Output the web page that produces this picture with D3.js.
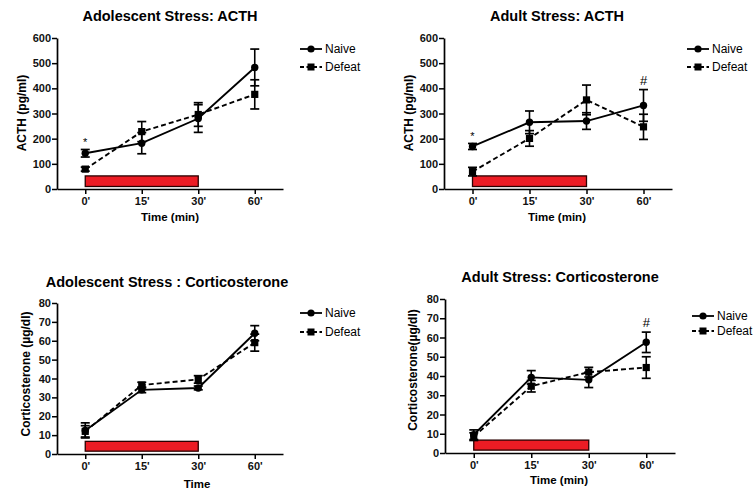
<!DOCTYPE html>
<html><head><meta charset="utf-8">
<script src="https://cdn.jsdelivr.net/npm/d3@7"></script>
<style>
body{margin:0;background:#fff;}
svg{display:block;font-family:"Liberation Sans",Arial,sans-serif;}
</style></head>
<body><svg id="c" width="754" height="491"></svg>
<script>
// ---- data ----
const timepoints = ["0'", "15'", "30'", "60'"];
const seriesNames = ["Naive", "Defeat"];
const acthTicks = [0, 100, 200, 300, 400, 500, 600];
const cortTicks = [0, 10, 20, 30, 40, 50, 60, 70, 80];

const adoActhNaive = [142, 182, 280, 483];
const adoActhNaiveErr = [15, 42, 55, 73];
const adoActhDefeat = [79, 228, 296, 376];
const adoActhDefeatErr = [8, 40, 47, 58];

const adActhNaive = [169, 265, 270, 332];
const adActhNaiveErr = [12, 45, 33, 63];
const adActhDefeat = [69, 201, 354, 247];
const adActhDefeatErr = [17, 31, 59, 50];

const adoCortNaive = [12.5, 34, 35, 64];
const adoCortNaiveErr = [4, 1.5, 1, 4];
const adoCortDefeat = [12, 36.5, 39.5, 59];
const adoCortDefeatErr = [3, 1.5, 2, 4.5];

const adCortNaive = [9.5, 39.3, 38, 57.5];
const adCortNaiveErr = [2.5, 3.5, 4, 5.3];
const adCortDefeat = [8.5, 34.7, 42, 44.4];
const adCortDefeatErr = [2, 3, 2.5, 5.6];

// stress period bar (from 0' to 30'), in data units [low, high]
const acthStressBar = [10, 52];
const cortStressBar = [1.5, 6.7];

// significance markers: [timepoint, symbol, value position]
const adoActhSig = [["0'", "*", 188]];
const adActhSig = [["0'", "*", 212], ["60'", "#", 432]];
const adoCortSig = [];
const adCortSig = [["60'", "#", 68]];

// ---- layout ----
const panels = [
  {title:"Adolescent Stress: ACTH", tx:170, ty:16, ylabel:"ACTH (pg/ml)", ylx:22, yly:113,
   xlabel:"Time (min)", xlx:170, xly:217, x0:57, x1:283, yb:189, yt:38, ymax:600, ticks:acthTicks,
   naive:adoActhNaive, naiveErr:adoActhNaiveErr, defeat:adoActhDefeat, defeatErr:adoActhDefeatErr,
   bar:acthStressBar, sig:adoActhSig, lgx:300, lgy:[49,67]},
  {title:"Adult Stress: ACTH", tx:557, ty:16, ylabel:"ACTH (pg/ml)", ylx:409, yly:113,
   xlabel:"Time  (min)", xlx:557, xly:217, x0:444, x1:672, yb:189, yt:38, ymax:600, ticks:acthTicks,
   naive:adActhNaive, naiveErr:adActhNaiveErr, defeat:adActhDefeat, defeatErr:adActhDefeatErr,
   bar:acthStressBar, sig:adActhSig, lgx:687, lgy:[49,67]},
  {title:"Adolescent Stress : Corticosterone", tx:167, ty:282, ylabel:"Corticosterone (\u00b5g/dl)", ylx:26, yly:374,
   xlabel:"Time", xlx:197, xly:484, x0:57, x1:283, yb:454, yt:303, ymax:80, ticks:cortTicks,
   naive:adoCortNaive, naiveErr:adoCortNaiveErr, defeat:adoCortDefeat, defeatErr:adoCortDefeatErr,
   bar:cortStressBar, sig:adoCortSig, lgx:300, lgy:[313,332]},
  {title:"Adult Stress: Corticosterone", tx:560, ty:277, ylabel:"Corticosterone(\u00b5g/dl)", ylx:413, yly:370,
   xlabel:"Time (min)", xlx:559, xly:480, x0:445, x1:675, yb:453, yt:299, ymax:80, ticks:cortTicks,
   naive:adCortNaive, naiveErr:adCortNaiveErr, defeat:adCortDefeat, defeatErr:adCortDefeatErr,
   bar:cortStressBar, sig:adCortSig, lgx:692, lgy:[316,331]}
];

const svg = d3.select("#c");
const RED = "#ec1c24";

panels.forEach(p => {
  const g = svg.append("g");
  const x = d3.scalePoint().domain(timepoints).range([p.x0, p.x1]).padding(0.5);
  const y = d3.scaleLinear().domain([0, p.ymax]).range([p.yb, p.yt]);

  // title
  g.append("text").attr("x", p.tx).attr("y", p.ty).attr("text-anchor","middle")
    .attr("dominant-baseline","central").attr("font-weight","bold").attr("font-size",14.5).text(p.title);

  // stress bar
  g.append("rect").attr("x", x(timepoints[0])).attr("width", x("30'") - x(timepoints[0]))
    .attr("y", y(p.bar[1])).attr("height", y(p.bar[0]) - y(p.bar[1]))
    .attr("fill", RED).attr("stroke", "#2a0000").attr("stroke-width", 1.3);

  // axes
  const ya = g.append("g").attr("transform", `translate(${p.x0},0)`)
    .call(d3.axisLeft(y).tickValues(p.ticks).tickSize(5).tickSizeOuter(0).tickPadding(1));
  const xa = g.append("g").attr("transform", `translate(0,${p.yb})`)
    .call(d3.axisBottom(x).tickSize(5).tickSizeOuter(0).tickPadding(3));
  [ya, xa].forEach(a => {
    a.select(".domain").attr("stroke","#000").attr("stroke-width",1.7);
    a.selectAll(".tick line").attr("stroke","#000").attr("stroke-width",1.5);
    a.selectAll("text").attr("font-family","Liberation Sans, Arial, sans-serif")
      .attr("font-weight","bold").attr("font-size",11).attr("fill","#111");
  });

  // axis labels
  g.append("text").attr("transform", `translate(${p.ylx},${p.yly}) rotate(-90)`)
    .attr("text-anchor","middle").attr("dominant-baseline","central")
    .attr("font-weight","bold").attr("font-size",12).text(p.ylabel);
  g.append("text").attr("x", p.xlx).attr("y", p.xly).attr("text-anchor","middle")
    .attr("dominant-baseline","central").attr("font-weight","bold").attr("font-size",11.5).text(p.xlabel);

  const series = [
    {name:seriesNames[0], vals:p.naive, err:p.naiveErr, dash:null, shape:"circle"},
    {name:seriesNames[1], vals:p.defeat, err:p.defeatErr, dash:"5,3", shape:"square"}
  ];
  const line = d3.line().x((d,i) => x(timepoints[i])).y(d => y(d));

  series.forEach(s => {
    // error bars
    s.vals.forEach((v,i) => {
      const cx = x(timepoints[i]);
      const lo = y(v - s.err[i]), hi = y(v + s.err[i]);
      g.append("line").attr("x1",cx).attr("x2",cx).attr("y1",lo).attr("y2",hi)
        .attr("stroke","#000").attr("stroke-width",1.6);
      [lo, hi].forEach(yy => g.append("line").attr("x1",cx-4.5).attr("x2",cx+4.5)
        .attr("y1",yy).attr("y2",yy).attr("stroke","#000").attr("stroke-width",1.7));
    });
    g.append("path").datum(s.vals).attr("d", line).attr("fill","none")
      .attr("stroke","#000").attr("stroke-width",1.9).attr("stroke-dasharray", s.dash);
    s.vals.forEach((v,i) => {
      const cx = x(timepoints[i]), cy = y(v);
      if (s.shape === "circle") g.append("circle").attr("cx",cx).attr("cy",cy).attr("r",3.7).attr("fill","#000");
      else g.append("rect").attr("x",cx-3.6).attr("y",cy-3.6).attr("width",7.2).attr("height",7.2).attr("fill","#000");
    });
  });

  // significance
  p.sig.forEach(s => {
    g.append("text").attr("x", x(s[0])).attr("y", y(s[2])).attr("text-anchor","middle")
      .attr("dominant-baseline","central").attr("font-size", s[1] === "#" ? 13 : 11).text(s[1]);
  });

  // legend
  series.forEach((s,i) => {
    const ly = p.lgy[i];
    g.append("line").attr("x1",p.lgx).attr("x2",p.lgx+22).attr("y1",ly).attr("y2",ly)
      .attr("stroke","#000").attr("stroke-width",1.8).attr("stroke-dasharray", s.dash ? "4,2.5" : null);
    if (s.shape === "circle") g.append("circle").attr("cx",p.lgx+11).attr("cy",ly).attr("r",3.6).attr("fill","#000");
    else g.append("rect").attr("x",p.lgx+7.5).attr("y",ly-3.5).attr("width",7).attr("height",7).attr("fill","#000");
    g.append("text").attr("x",p.lgx+25).attr("y",ly).attr("dominant-baseline","central")
      .attr("font-size",12).text(s.name);
  });
});
</script></body></html>
